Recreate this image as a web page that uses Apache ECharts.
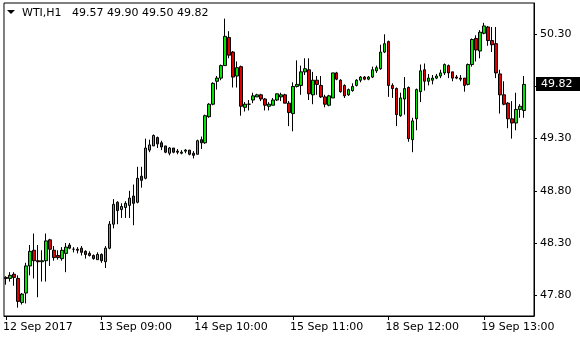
<!DOCTYPE html>
<html>
<head>
<meta charset="utf-8">
<script src="https://cdn.jsdelivr.net/npm/echarts@6/dist/echarts.min.js"></script>
<style>
html,body{margin:0;padding:0;background:#fff;}
#chart{width:580px;height:340px;}
</style>
</head>
<body>
<div id="chart"></div>
<script>
const symbolName = 'WTI,H1';
const openPrices = [47.97,47.96,48.00,47.96,47.73,47.82,48.08,48.23,48.13,48.12,48.13,48.33,48.23,48.18,48.15,48.20,48.28,48.24,48.24,48.25,48.22,48.20,48.18,48.14,48.19,48.12,48.25,48.48,48.69,48.62,48.64,48.66,48.75,48.69,48.94,48.92,49.19,49.23,49.31,49.26,49.23,49.16,49.21,49.18,49.16,49.18,49.19,49.16,49.15,49.29,49.26,49.51,49.63,49.85,49.88,50.00,50.27,50.13,49.90,49.99,49.60,49.63,49.67,49.70,49.72,49.68,49.61,49.62,49.67,49.70,49.72,49.64,49.54,49.80,49.81,49.94,49.96,49.72,49.86,49.81,49.70,49.62,49.69,49.93,49.86,49.81,49.72,49.76,49.81,49.86,49.89,49.87,49.89,49.95,49.97,50.13,50.23,49.81,49.78,49.52,49.68,49.79,49.29,49.49,49.75,49.96,49.85,49.86,49.88,49.90,49.93,50.00,49.94,49.89,49.88,49.88,49.82,50.01,50.26,50.14,50.31,50.37,50.24,50.21,49.92,49.72,49.64,49.49,49.45,49.58,49.57];
const highPrices = [47.98,48.02,48.02,47.99,47.82,48.11,48.28,48.39,48.28,48.23,48.39,48.34,48.27,48.23,48.26,48.30,48.30,48.26,48.26,48.27,48.23,48.22,48.19,48.21,48.20,48.27,48.51,48.72,48.70,48.68,48.70,48.80,48.86,49.03,49.03,49.30,49.29,49.34,49.32,49.28,49.23,49.22,49.21,49.20,49.19,49.20,49.19,49.18,49.29,49.32,49.53,49.64,49.84,49.90,50.01,50.45,50.33,50.14,50.04,50.00,49.65,49.67,49.74,49.73,49.73,49.69,49.65,49.69,49.73,49.74,49.73,49.66,49.84,50.05,50.00,50.07,50.07,49.94,49.90,49.90,49.72,49.72,49.93,49.94,49.87,49.82,49.78,49.83,49.87,49.90,49.90,49.90,49.99,50.00,50.20,50.30,50.24,49.83,49.79,49.74,49.89,49.80,49.50,49.78,50.01,50.02,49.92,49.91,49.92,49.96,50.02,50.01,49.94,49.91,49.91,49.88,50.02,50.26,50.29,50.34,50.41,50.38,50.37,50.37,49.96,49.85,49.65,49.66,49.74,49.63,49.90];
const lowPrices = [47.90,47.93,47.89,47.68,47.71,47.72,47.99,47.96,47.78,47.93,47.93,48.08,48.13,48.14,48.13,48.02,48.24,48.21,48.20,48.18,48.15,48.17,48.14,48.14,48.11,48.06,48.24,48.44,48.48,48.54,48.54,48.54,48.47,48.68,48.83,48.91,49.17,49.23,49.21,49.19,49.16,49.14,49.16,49.15,49.15,49.16,49.14,49.11,49.15,49.20,49.25,49.50,49.62,49.77,49.86,50.00,50.07,49.79,49.79,49.52,49.56,49.57,49.64,49.70,49.66,49.57,49.57,49.62,49.66,49.66,49.64,49.42,49.37,49.79,49.72,49.91,49.67,49.63,49.72,49.69,49.60,49.61,49.69,49.86,49.74,49.69,49.71,49.75,49.80,49.84,49.86,49.86,49.88,49.93,49.96,50.12,49.70,49.69,49.42,49.51,49.53,49.27,49.17,49.38,49.65,49.76,49.81,49.82,49.87,49.88,49.91,49.88,49.85,49.87,49.85,49.75,49.81,49.99,50.04,50.07,50.30,50.19,50.13,49.88,49.54,49.62,49.40,49.30,49.38,49.50,49.50];
const closePrices = [47.96,47.99,47.97,47.74,47.81,48.08,48.22,48.13,48.12,48.13,48.32,48.24,48.16,48.16,48.23,48.26,48.25,48.24,48.23,48.21,48.19,48.18,48.15,48.19,48.13,48.25,48.48,48.67,48.61,48.65,48.68,48.73,48.68,48.92,48.90,49.21,49.24,49.33,49.25,49.22,49.17,49.21,49.17,49.17,49.17,49.19,49.15,49.14,49.28,49.26,49.52,49.63,49.83,49.88,50.00,50.28,50.10,49.89,49.98,49.61,49.63,49.63,49.71,49.72,49.68,49.62,49.63,49.67,49.73,49.72,49.64,49.55,49.80,49.82,49.94,49.97,49.73,49.86,49.82,49.70,49.63,49.71,49.93,49.87,49.75,49.71,49.77,49.80,49.86,49.89,49.87,49.89,49.96,49.98,50.13,50.21,49.81,49.78,49.53,49.69,49.78,49.30,49.47,49.77,49.95,49.85,49.88,49.88,49.90,49.93,50.01,49.93,49.88,49.88,49.87,49.81,50.01,50.25,50.15,50.32,50.38,50.24,50.20,49.93,49.72,49.63,49.49,49.45,49.58,49.61,49.82];
const timeLabels = ['12 Sep 2017','13 Sep 09:00','14 Sep 10:00','15 Sep 11:00','18 Sep 12:00','19 Sep 13:00'];
const timeLabelBars = [0,24,48,72,96,120];
const priceTicks = [47.80,48.30,48.80,49.30,49.80,50.30];
const priceMin = 47.60, priceMax = 50.60;
const emptyBarsRight = 2;

const n = closePrices.length;
const candles = openPrices.map((o,i)=>[o, closePrices[i], lowPrices[i], highPrices[i]]);
const categories = [];
for (let i=0;i<n+emptyBarsRight;i++) categories.push(String(i));
const labelAt = {};
timeLabelBars.forEach((b,k)=>{labelAt[b]=timeLabels[k];});
const last = n-1;
const fmt = v => v.toFixed(2);
const titleText = symbolName + '   ' + [openPrices[last],highPrices[last],lowPrices[last],closePrices[last]].map(fmt).join(' ');

const FONT = 'DejaVu Sans';
const chart = echarts.init(document.getElementById('chart'), null, {renderer:'canvas'});
chart.setOption({
  animation:false,
  backgroundColor:'#fff',
  title:{text:titleText,left:17,top:3,textStyle:{fontFamily:FONT,fontSize:11,fontWeight:'normal',color:'#000'}},
  graphic:[{id:'tri',type:'polygon',shape:{points:[[7,10],[15,10],[11,14]]},style:{fill:'#000'}}],
  grid:{left:1,right:46,top:3,bottom:24,show:true,borderColor:'#000',borderWidth:1,backgroundColor:'#fff'},
  xAxis:{
    type:'category',data:categories,boundaryGap:true,
    axisLine:{show:true,lineStyle:{color:'#000',width:1}},
    axisTick:{show:true,alignWithLabel:true,length:4,lineStyle:{color:'#000'},interval:(idx)=>labelAt[idx]!==undefined},
    axisLabel:{show:true,interval:(idx)=>labelAt[idx]!==undefined,formatter:(v,idx)=>labelAt[idx]||'',align:'left',margin:6,padding:[0,0,0,-3],fontFamily:FONT,fontSize:11,color:'#000'},
    splitLine:{show:false}
  },
  yAxis:{
    type:'value',position:'right',min:priceMin,max:priceMax,scale:true,
    axisLine:{show:true,lineStyle:{color:'#000',width:1}},
    axisTick:{show:true,length:3,lineStyle:{color:'#000'},customValues:priceTicks},
    axisLabel:{show:true,customValues:priceTicks,formatter:v=>v.toFixed(2),margin:6,fontFamily:FONT,fontSize:11,color:'#000'},
    splitLine:{show:false}
  },
  series:[{
    type:'candlestick',data:candles,barWidth:3,silent:true,
    itemStyle:{color:'#00e400',color0:'#e00000',borderColor:'#000',borderColor0:'#000',borderWidth:1}
  }]
});
// current price tag placed through the value axis scale
const py = chart.convertToPixel({yAxisIndex:0}, closePrices[last]);
const gridRight = 580 - 46;
chart.setOption({graphic:[
  {id:'tri',type:'polygon',shape:{points:[[7,10],[15,10],[11,14]]},style:{fill:'#000'}},
  {id:'tagbox',type:'rect',shape:{x:gridRight+2,y:Math.round(py)-7,width:44,height:14},style:{fill:'#000'},z:100},
  {id:'tagtext',type:'text',x:gridRight+7,y:Math.round(py),style:{text:fmt(closePrices[last]),fill:'#fff',font:'11px "DejaVu Sans"',textVerticalAlign:'middle',textAlign:'left'},z:101}
]});
</script>
</body>
</html>
